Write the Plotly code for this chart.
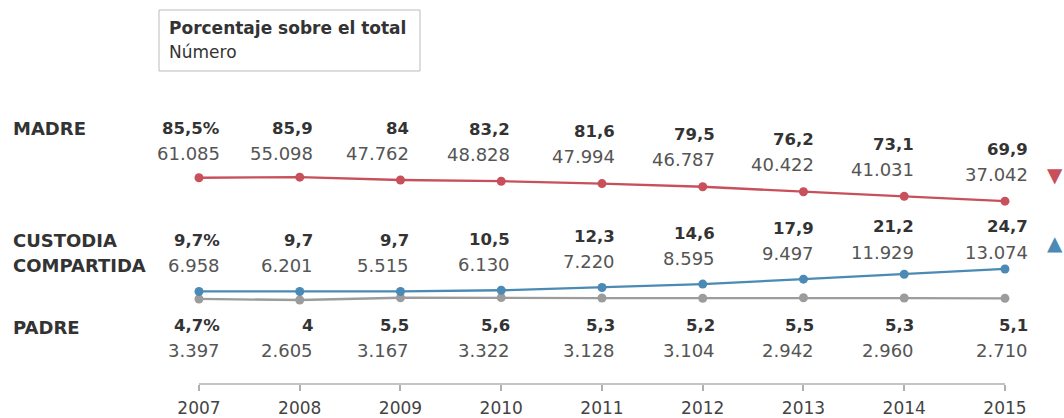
import plotly.graph_objects as go

years = [2007, 2008, 2009, 2010, 2011, 2012, 2013, 2014, 2015]

madre_pct = [85.5, 85.9, 84, 83.2, 81.6, 79.5, 76.2, 73.1, 69.9]
madre_num = [61085, 55098, 47762, 48828, 47994, 46787, 40422, 41031, 37042]

custodia_pct = [9.7, 9.7, 9.7, 10.5, 12.3, 14.6, 17.9, 21.2, 24.7]
custodia_num = [6958, 6201, 5515, 6130, 7220, 8595, 9497, 11929, 13074]

padre_pct = [4.7, 4.0, 5.5, 5.6, 5.3, 5.2, 5.5, 5.3, 5.1]
padre_num = [3397, 2605, 3167, 3322, 3128, 3104, 2942, 2960, 2710]

# ---- layout constants ----
W, H = 1064, 418
MB = 34
PLOT_H = H - MB
Y0, Y1 = -52, 204
X0, X1 = 2005.025, 2015.586
LABEL_DX = [23, 15, 11, 11, 15, 14, 13, 12, 25]
FONT = "DejaVu Sans"
DARK = "#333333"
GREY_TXT = "#555555"

RED = "#c8505b"
BLUE = "#4a8ab4"
GREY = "#9c9c9c"


def val_px(v):
    return PLOT_H * (1 - (v - Y0) / (Y1 - Y0))


def px_paper(px):
    return (PLOT_H - px) / PLOT_H


def fmt_pct(v, first):
    s = ("%.1f" % v).rstrip("0").rstrip(".").replace(".", ",")
    return s + ("%" if first else "")


def fmt_num(n):
    return f"{n:,}".replace(",", ".")


# num_row = default row of the number labels; lo/hi clamp the row when it
# follows the line (row = point - gap)
series = [
    dict(name=["MADRE"], pct=madre_pct, num=madre_num, color=RED,
         bold_row=128, num_row=153, gap=27, lo=153, hi=180, follow=True),
    dict(name=["CUSTODIA", "COMPARTIDA"], pct=custodia_pct, num=custodia_num,
         color=BLUE, bold_row=240, num_row=265, gap=26, lo=252, hi=265,
         follow=True),
    dict(name=["PADRE"], pct=padre_pct, num=padre_num, color=GREY,
         bold_row=327, num_row=350, gap=0, lo=350, hi=350, follow=False),
]

fig = go.Figure()

for s in reversed(series):
    fig.add_trace(go.Scatter(
        x=years, y=s["pct"], mode="lines+markers",
        line=dict(color=s["color"], width=2.3),
        marker=dict(color=s["color"], size=9),
        hoverinfo="skip", showlegend=False,
    ))

annotations = []
for s in series:
    for i, yr in enumerate(years):
        p = val_px(s["pct"][i])
        if s["follow"]:
            nrow = max(s["lo"], min(s["hi"], p - s["gap"]))
        else:
            nrow = s["num_row"]
        brow = nrow - 25
        annotations.append(dict(
            x=yr, xref="x", y=px_paper(brow), yref="paper",
            text="<b>" + fmt_pct(s["pct"][i], i == 0) + "</b>",
            showarrow=False, xanchor="right", yanchor="middle",
            xshift=LABEL_DX[i], font=dict(family=FONT, size=16.5, color=DARK)))
        annotations.append(dict(
            x=yr, xref="x", y=px_paper(nrow), yref="paper",
            text=fmt_num(s["num"][i]),
            showarrow=False, xanchor="right", yanchor="middle",
            xshift=LABEL_DX[i], font=dict(family=FONT, size=18, color=GREY_TXT)))
    # series name on the left
    rows = [s["bold_row"], s["num_row"]]
    for j, nm in enumerate(s["name"]):
        annotations.append(dict(
            x=11 / W, xref="paper", y=px_paper(rows[j]), yref="paper",
            text="<b>" + nm + "</b>", showarrow=False,
            xanchor="left", yanchor="middle",
            font=dict(family=FONT, size=18, color=DARK)))
    # trend triangle
    if s["follow"]:
        up = s["pct"][-1] > s["pct"][0]
        annotations.append(dict(
            x=years[-1], xref="x", y=s["pct"][-1], yref="y",
            text="▲" if up else "▼", showarrow=False,
            xanchor="center", yanchor="middle",
            xshift=50, yshift=26,
            font=dict(family=FONT, size=20, color=s["color"])))

# legend box text
annotations.append(dict(
    x=167 / W, xref="paper", y=px_paper(28), yref="paper",
    text="<b>Porcentaje sobre el total</b>", showarrow=False,
    xanchor="left", yanchor="middle",
    font=dict(family=FONT, size=17, color=DARK)))
annotations.append(dict(
    x=167 / W, xref="paper", y=px_paper(52), yref="paper",
    text="Número", showarrow=False,
    xanchor="left", yanchor="middle",
    font=dict(family=FONT, size=17, color=DARK)))

shapes = [
    dict(type="rect", xref="paper", yref="paper",
         x0=159 / W, x1=420 / W, y0=px_paper(71), y1=px_paper(10),
         line=dict(color="#bbbbbb", width=1), fillcolor="rgba(0,0,0,0)"),
    dict(type="line", xref="x", yref="paper",
         x0=years[0], x1=years[-1], y0=0, y1=0,
         line=dict(color="#b0b0b0", width=1.5)),
]

fig.update_layout(
    width=W, height=H,
    margin=dict(l=0, r=0, t=0, b=MB, pad=0),
    paper_bgcolor="white", plot_bgcolor="white",
    showlegend=False,
    annotations=annotations, shapes=shapes,
    xaxis=dict(range=[X0, X1], showgrid=False, zeroline=False, showline=False,
               tickvals=years, ticktext=[str(y) for y in years],
               ticks="outside", ticklen=6, tickcolor="#b0b0b0", tickwidth=1.5,
               ticklabelstandoff=3,
               tickfont=dict(family=FONT, size=17, color="#444444"),
               fixedrange=True),
    yaxis=dict(range=[Y0, Y1], visible=False, fixedrange=True),
)

fig.write_html("out.html")
